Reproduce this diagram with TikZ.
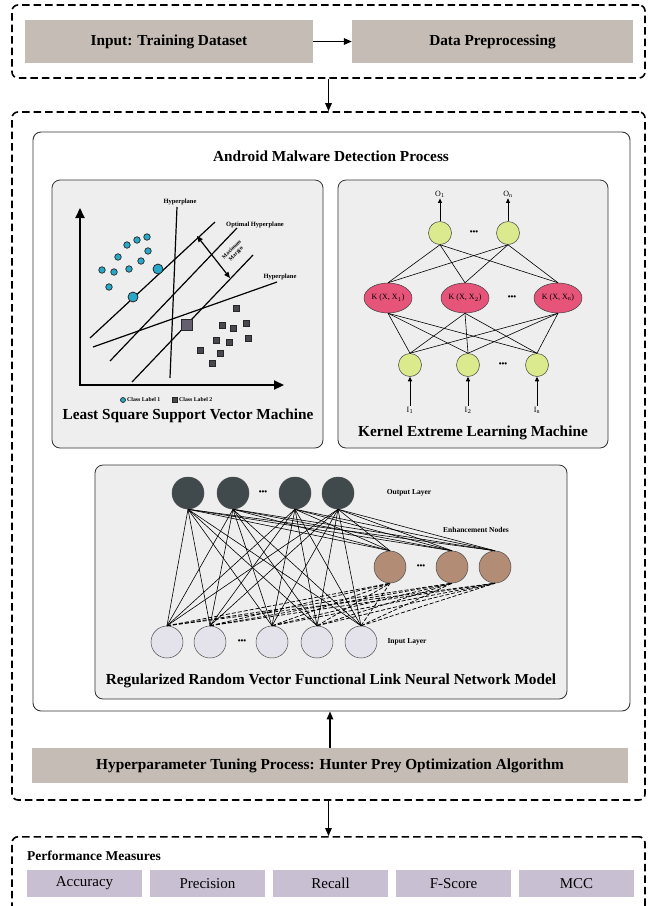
\documentclass[tikz,border=0pt]{standalone}
\usepackage{fontspec}
\setmainfont{Liberation Serif}
\usetikzlibrary{arrows.meta,shapes.geometric,calc}
\definecolor{boxgray}{RGB}{196,188,181}
\definecolor{lav}{RGB}{200,191,211}
\definecolor{panelgray}{RGB}{238,238,238}
\definecolor{kgreen}{RGB}{218,234,140}
\definecolor{kpink}{RGB}{230,84,122}
\definecolor{rdark}{RGB}{64,74,76}
\definecolor{rbrown}{RGB}{178,140,116}
\definecolor{rlight}{RGB}{228,226,234}
\definecolor{scyan}{RGB}{40,168,200}
\definecolor{ssq}{RGB}{72,72,78}
\definecolor{ssqbig}{RGB}{100,96,112}
\begin{document}
\begin{tikzpicture}[x=1pt,y=-1pt,
  dashbox/.style={draw, line width=1.6pt, dash pattern=on 7.5pt off 4pt, rounded corners=6pt, inner sep=0},
  graybox/.style={fill=boxgray, inner sep=0, font=\bfseries\fontsize{15.3}{17}\selectfont},
  metricbox/.style={fill=lav, inner sep=0, minimum width=115, minimum height=27, font=\fontsize{15}{17}\selectfont},
  panel/.style={draw=black!80, fill=panelgray, rounded corners=8pt, line width=0.8pt, inner sep=0},
  arr/.style={-{Triangle[length=8pt,width=6.5pt]}, line width=1.4pt},
  title/.style={font=\bfseries\fontsize{15.3}{17}\selectfont, inner sep=0},
  tiny/.style={font=\bfseries\fontsize{6.5}{7}\selectfont, inner sep=0},
  kgr/.style={circle, fill=kgreen, draw=black!75, line width=0.5pt, minimum size=23, inner sep=0},
  kel/.style={ellipse, fill=kpink, draw=black!75, line width=0.5pt, minimum width=48, minimum height=30, inner sep=0, font=\fontsize{8}{9}\selectfont},
  klab/.style={font=\fontsize{8}{9}\selectfont, inner sep=1},
  dots/.style={font=\bfseries\fontsize{8}{8}\selectfont, inner sep=0},
  rnode/.style={circle, draw=black!70, line width=0.5pt, minimum size=32, inner sep=0},
  thin/.style={line width=0.6pt},
  cls1/.style={circle, fill=scyan, draw=black!85, line width=0.7pt, minimum size=6.5, inner sep=0},
  cls1big/.style={circle, fill=scyan, draw=black!85, line width=0.8pt, minimum size=10, inner sep=0},
  cls2/.style={rectangle, fill=ssq, draw=black!85, line width=0.5pt, minimum size=5.5, inner sep=0},
  cls2big/.style={rectangle, fill=ssqbig, draw=black!85, line width=0.9pt, minimum size=10.5, inner sep=0},
  sline/.style={line width=1.2pt}
]
\useasboundingbox (0,0) rectangle (655,906);
\fill[white] (0,0) rectangle (655,906);

% ---------- top ----------
\node[dashbox, minimum width=633, minimum height=73] (topbox) at (328.5,41.5) {};
\node[graybox, minimum width=288, minimum height=43] (inp) at (169,41.5) {Input: Training Dataset};
\node[graybox, minimum width=281, minimum height=43] (prep) at (492.5,41.5) {Data Preprocessing};
\draw[arr] (inp.east) -- (prep.west);

% ---------- main ----------
\node[dashbox, minimum width=633, minimum height=688] (mainbox) at (328.5,456) {};
\draw[arr] (topbox.south) -- (mainbox.north);
\node[draw=black!80, line width=0.9pt, rounded corners=8pt, minimum width=597, minimum height=579, inner sep=0] (inner) at (331.5,421.5) {};
\node[title] (amdt) at (331,156) {Android Malware Detection Process};

% ---------- LSSVM panel ----------
\node[panel, minimum width=271, minimum height=268] (lspanel) at (187.5,314) {};
\coordinate (orig) at (80,385);
\coordinate (yend) at (80,208);
\coordinate (xend) at (284,385);
\draw[line width=2.2pt, -{Triangle[length=10pt,width=9pt]}] (orig) -- (yend);
\draw[line width=2.2pt, -{Triangle[length=10pt,width=9pt]}] ($(orig)+(-1.1,0)$) -- (xend);
\draw[sline] (177,207) -- (170,378);
\draw[sline] (90,338) -- (215,222);
\draw[sline] (110,361) -- (237,228);
\draw[sline] (132,382) -- (253,255);
\draw[sline] (93,347) -- (277,282);
\draw[line width=1.2pt, {Triangle[length=6pt,width=5pt]}-{Triangle[length=6pt,width=5pt]}] (197,236) -- (230,278);
\node[tiny] (hp1) at (180,202) {Hyperplane};
\node[tiny] (ohp) at (255,225) {Optimal Hyperplane};
\node[tiny] (hp2) at (280,277) {Hyperplane};
\node[tiny, rotate=45, align=center, font=\bfseries\fontsize{5.5}{6}\selectfont] (mm) at (234,252) {Maximum\\Margin};
\foreach \p [count=\k] in {(127,245),(137,240),(147,237),(118,257),(148,251),(102,270),(114,272),(129,269),(141,261),(109,287)}
  \node[cls1] (c\k) at \p {};
\node[cls1big] (cb1) at (158,269) {};
\node[cls1big] (cb2) at (133,297) {};
\foreach \p [count=\k] in {(236,308),(222,325),(233,328),(246,323),(216,340),(229,342),(248,338),(200,350),(220,353),(212,363)}
  \node[cls2] (s\k) at \p {};
\node[cls2big] (sb1) at (187,325) {};
\node[cls1, minimum size=5] (lg1) at (123,400) {};
\node[tiny, anchor=west, font=\bfseries\fontsize{5.8}{6}\selectfont] (lg1t) at (127,400) {Class Label 1};
\node[cls2, minimum size=5] (lg2) at (175,400) {};
\node[tiny, anchor=west, font=\bfseries\fontsize{5.8}{6}\selectfont] (lg2t) at (179,400) {Class Label 2};
\node[title] (lstitle) at (188,416) {Least Square Support Vector Machine};

% ---------- KELM panel ----------
\node[panel, minimum width=270, minimum height=268] (kpanel) at (473,314) {};
\node[kgr] (o1) at (440,233) {};
\node[kgr] (o2) at (508,233) {};
\node[dots] (od) at (474,233) {•••};
\node[kel] (k1) at (388,298) {K (X, X$_1$)};
\node[kel] (k2) at (465,298) {K (X, X$_2$)};
\node[kel] (k3) at (558,298) {K (X, X$_\mathrm{n}$)};
\node[dots] (kd) at (512,298) {•••};
\node[kgr] (i1) at (410,365) {};
\node[kgr] (i2) at (468,365) {};
\node[kgr] (i3) at (537,365) {};
\node[dots] (id) at (503,365) {•••};
\node[klab] (ol1) at (440,194) {O$_1$};
\node[klab] (ol2) at (508,194) {O$_\mathrm{n}$};
\node[klab] (il1) at (410,410) {I$_1$};
\node[klab] (il2) at (468,410) {I$_2$};
\node[klab] (il3) at (537,410) {I$_\mathrm{n}$};
\foreach \o in {o1,o2} \foreach \k in {k1,k2,k3} \draw[thin] (\o.south) -- (\k.north);
\foreach \k in {k1,k2,k3} \foreach \i in {i1,i2,i3} \draw[thin] (\k.south) -- (\i.north);
\foreach \a/\b in {o1/ol1,o2/ol2} \draw[line width=0.9pt, -{Triangle[length=4.5pt,width=4pt]}] (\a.north) -- (\b.south);
\foreach \a/\b in {il1/i1,il2/i2,il3/i3} \draw[line width=0.9pt, -{Triangle[length=4.5pt,width=4pt]}] (\a.north) -- (\b.south);
\node[title] (ktitle) at (473,433) {Kernel Extreme Learning Machine};

% ---------- RVFL panel ----------
\node[panel, minimum width=472, minimum height=234] (rpanel) at (331,582) {};
\foreach \x [count=\k] in {188,233,295,338} \node[rnode, fill=rdark] (out\k) at (\x,493) {};
\node[dots] (outd) at (263,493) {•••};
\foreach \x [count=\k] in {390,452,495} \node[rnode, fill=rbrown] (en\k) at (\x,567) {};
\node[dots] (end) at (421,567) {•••};
\foreach \x [count=\k] in {167,210,272,317,361} \node[rnode, fill=rlight] (in\k) at (\x,642) {};
\node[dots] (ind) at (242,642) {•••};
\foreach \i in {1,...,5} \foreach \o in {1,...,4} \draw[thin] (in\i.north) -- (out\o.south);
\foreach \o in {1,...,4} \foreach \e in {1,2,3} \draw[thin] (out\o.south) -- (en\e.north);
\foreach \i in {1,...,5} \foreach \e in {1,2,3} \draw[line width=0.75pt, dash pattern=on 4pt off 2pt] (in\i.north) -- (en\e.south);
\node[tiny, font=\bfseries\fontsize{7.5}{8}\selectfont] (outl) at (409,493) {Output Layer};
\node[tiny, font=\bfseries\fontsize{7.5}{8}\selectfont] (enl) at (476,530) {Enhancement Nodes};
\node[tiny, font=\bfseries\fontsize{7.5}{8}\selectfont] (inl) at (407,642) {Input Layer};
\node[title] (rtitle) at (331,681) {Regularized Random Vector Functional Link Neural Network Model};

% ---------- hyperparameter ----------
\node[graybox, minimum width=596, minimum height=35] (hyper) at (330,765.5) {Hyperparameter Tuning Process: Hunter Prey Optimization Algorithm};
\draw[arr] (hyper.north) -- (hyper.north |- inner.south);

% ---------- performance ----------
\node[dashbox, minimum width=633, minimum height=110, anchor=north] (perf) at (328.5,836) {};
\draw[arr] (mainbox.south) -- (perf.north);
\node[title, anchor=west, font=\bfseries\fontsize{13.5}{15}\selectfont] (pm) at (27,856) {Performance Measures};
\node[metricbox] (m1) at (84.5,883.5) {Accuracy};
\node[metricbox] (m2) at (207.5,883.5) {Precision};
\node[metricbox] (m3) at (330.5,883.5) {Recall};
\node[metricbox] (m4) at (453.5,883.5) {F-Score};
\node[metricbox] (m5) at (576.5,883.5) {MCC};
\end{tikzpicture}
\end{document}
